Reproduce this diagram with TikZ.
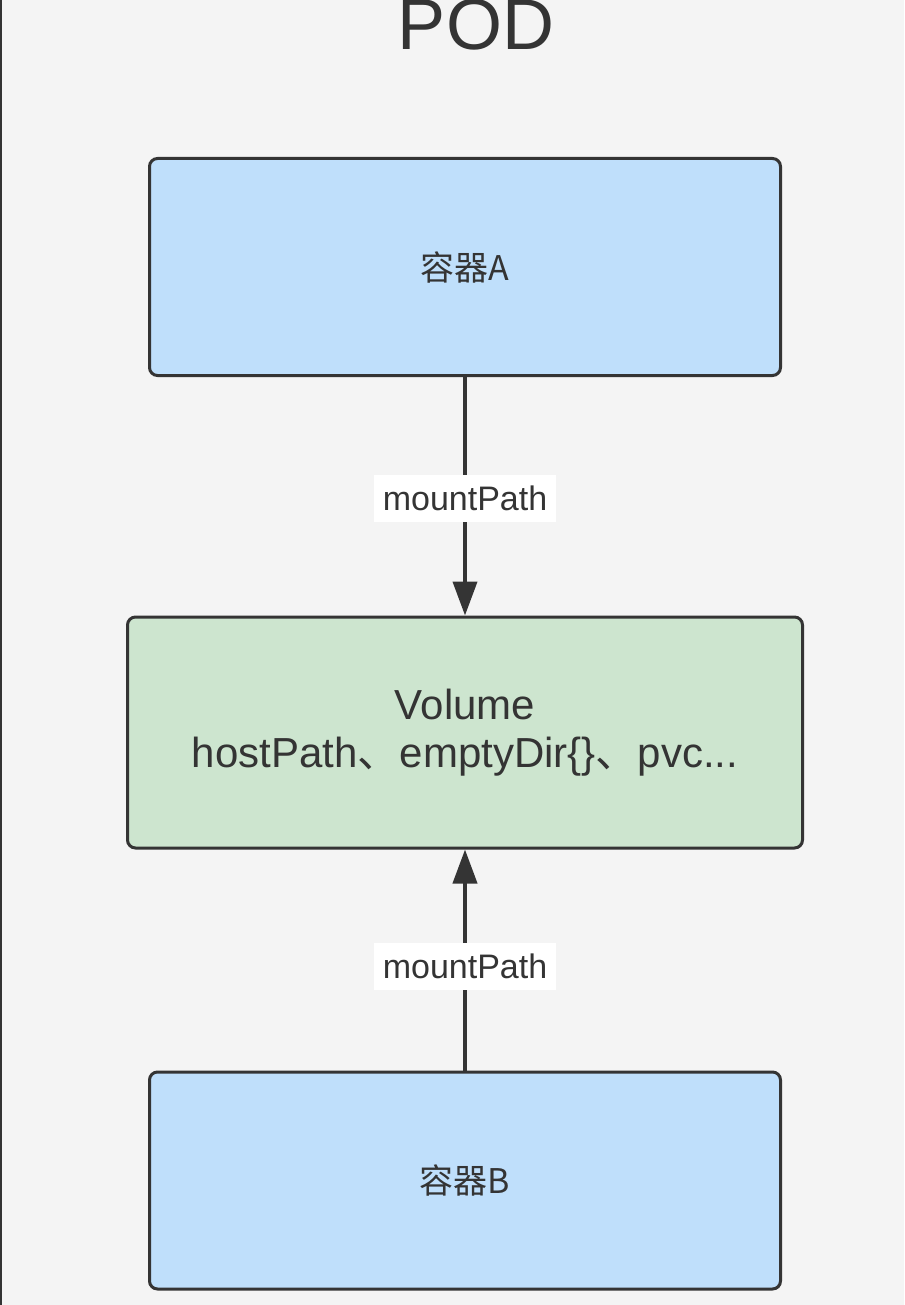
\documentclass[tikz,border=0pt]{standalone}
\usepackage{fontspec}
\setmainfont{Liberation Sans}
\newfontfamily\cjk{Noto Sans CJK SC}
\usetikzlibrary{arrows.meta}
\definecolor{bg}{HTML}{F4F4F4}
\definecolor{ink}{HTML}{343434}
\definecolor{boxblue}{HTML}{BFDFFB}
\definecolor{boxgreen}{HTML}{CDE5CF}
\tikzset{
  container/.style={draw=ink, line width=3pt, rounded corners=8pt, fill=boxblue,
    minimum width=631pt, minimum height=217pt, text=ink,
    font=\fontsize{34}{40}\selectfont},
  volbox/.style={draw=ink, line width=3pt, rounded corners=8pt, fill=boxgreen,
    minimum width=675pt, minimum height=231pt, text=ink, align=center,
    font=\fontsize{42}{48}\selectfont},
  conn/.style={draw=ink, line width=4pt, -{Triangle[length=34pt,width=24pt]}},
  lbl/.style={fill=white, text=ink, inner xsep=9pt, inner ysep=11pt,
    font=\fontsize{34}{40}\selectfont}
}
\begin{document}
\begin{tikzpicture}[x=1pt,y=-1pt]
\fill[bg] (0,0) rectangle (904,1305);
\useasboundingbox (0,0) rectangle (904,1305);
\draw[ink, line width=2.5pt] (1,0) -- (1,1305);
\node[text=ink, font=\fontsize{72}{80}\selectfont, anchor=base] (title) at (476,50) {POD};
\node[container] (A) at (465,267) {\cjk 容器A};
\node[volbox] (V) at (465,732.5) {Volume\\hostPath{\cjk 、}emptyDir\{\}{\cjk 、}pvc...};
\node[container] (B) at (465,1180.5) {\cjk 容器B};
\draw[conn] (A.south) -- (V.north) node[lbl, pos=0.51] {mountPath};
\draw[conn] (B.north) -- (V.south) node[lbl, pos=0.47] {mountPath};
\end{tikzpicture}
\end{document}
